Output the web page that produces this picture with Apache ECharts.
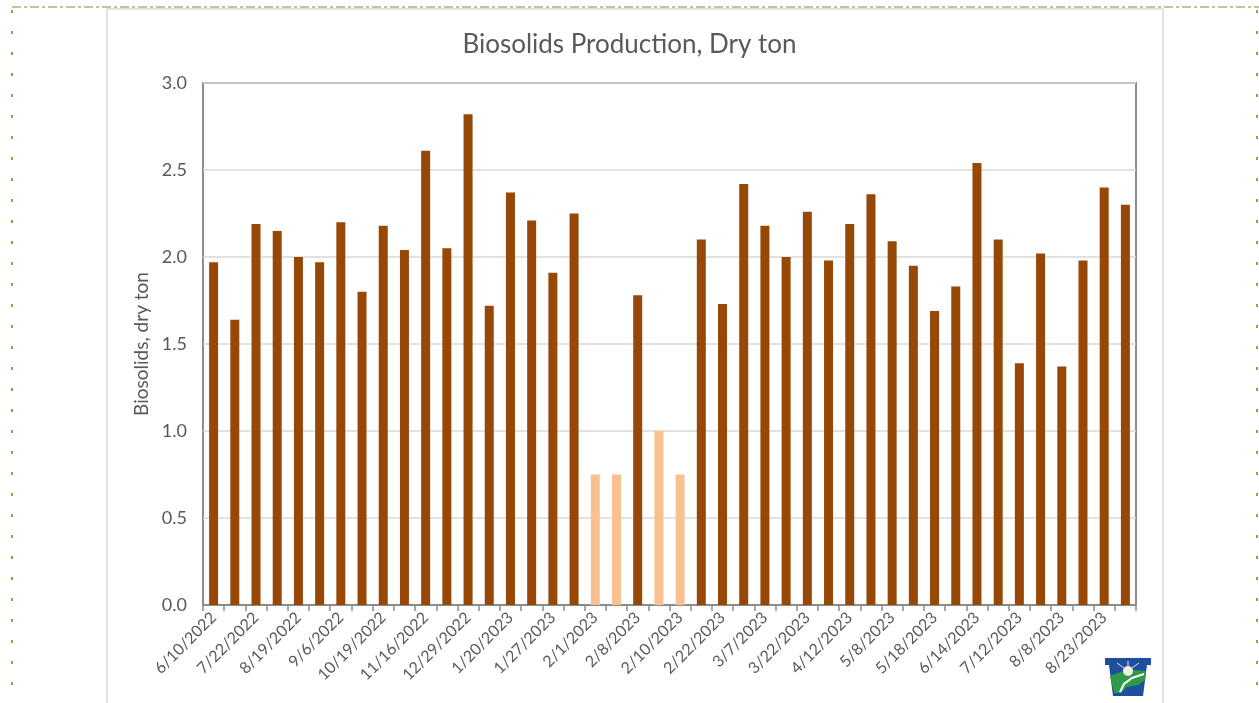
<!DOCTYPE html>
<html>
<head>
<meta charset="utf-8">
<script src="https://cdn.jsdelivr.net/npm/echarts@6/dist/echarts.min.js"></script>
<style>
html,body{margin:0;padding:0;background:#fff;}
#chart{width:1259px;height:703px;}
</style>
</head>
<body>
<div id="chart"></div>
<script>
// Sample dates (every other date is labelled in the original; unlabelled ones estimated)
const categories = [
  '6/10/2022','7/8/2022','7/22/2022','8/5/2022','8/19/2022','8/26/2022','9/6/2022','10/5/2022',
  '10/19/2022','11/2/2022','11/16/2022','12/14/2022','12/29/2022','1/13/2023','1/20/2023','1/25/2023',
  '1/27/2023','1/30/2023','2/1/2023','2/6/2023','2/8/2023','2/9/2023','2/10/2023','2/15/2023',
  '2/22/2023','3/1/2023','3/7/2023','3/15/2023','3/22/2023','4/5/2023','4/12/2023','4/26/2023',
  '5/8/2023','5/12/2023','5/18/2023','6/1/2023','6/14/2023','6/28/2023','7/12/2023','7/26/2023',
  '8/8/2023','8/16/2023','8/23/2023','8/30/2023'
];
// Measured production (dry ton); null where the value is shown as an estimate
const measuredVals = [
  1.97,1.64,2.19,2.15,2.00,1.97,2.20,1.80,2.18,2.04,2.61,2.05,2.82,1.72,2.37,2.21,
  1.91,2.25,null,null,1.78,null,null,2.10,1.73,2.42,2.18,2.00,2.26,1.98,2.19,2.36,
  2.09,1.95,1.69,1.83,2.54,2.10,1.39,2.02,1.37,1.98,2.40,2.30
];
// Estimated values (lighter bars)
const estimatedVals = [
  null,null,null,null,null,null,null,null,null,null,null,null,null,null,null,null,
  null,null,0.75,0.75,null,1.00,0.75,null,null,null,null,null,null,null,null,null,
  null,null,null,null,null,null,null,null,null,null,null,null
];
const yTicks = [0,0.5,1.0,1.5,2.0,2.5,3.0];

const chart = echarts.init(document.getElementById('chart'));
const txt = '#595959';
const font = 'Lato';
chart.setOption({
  backgroundColor: '#ffffff',
  animation: false,
  title: {
    text: 'Biosolids Production, Dry ton',
    left: 'center', top: 27,
    textStyle: { fontFamily: font, fontSize: 26, fontWeight: 'normal', color: txt }
  },
  grid: { left: 203, right: 123, top: 83, bottom: 98, show: true, borderColor: '#8c8c8c', borderWidth: 2, containLabel: false },
  xAxis: {
    type: 'category',
    data: categories,
    axisLine: { lineStyle: { color: '#8c8c8c', width: 2 } },
    axisTick: { show: true, interval: 0, length: 6, lineStyle: { color: '#8c8c8c', width: 1.5 } },
    axisLabel: { interval: 1, rotate: 45, margin: 10, color: txt, fontFamily: font, fontSize: 16 }
  },
  yAxis: {
    type: 'value', min: 0, max: 3, interval: 0.5,
    name: 'Biosolids, dry ton', nameLocation: 'middle', nameGap: 44,
    nameTextStyle: { fontFamily: font, fontSize: 19, color: txt },
    axisLine: { show: false }, axisTick: { show: false },
    axisLabel: { margin: 16, color: txt, fontFamily: font, fontSize: 18,
      formatter: v => (yTicks.indexOf(v) >= 0 ? v.toFixed(1) : '') },
    splitLine: { lineStyle: { color: '#d9d9d9', width: 1.5 } }
  },
  series: [
    { name: 'Measured', type: 'bar', data: measuredVals, barWidth: 9, barGap: '-100%',
      itemStyle: { color: '#974706' } },
    { name: 'Estimated', type: 'bar', data: estimatedVals, barWidth: 9, barGap: '-100%',
      itemStyle: { color: '#fac090' } }
  ],
  graphic: [
    { type: 'rect', shape: { x: 107, y: 9, width: 1056, height: 720 }, style: { fill: 'none', stroke: '#d9d9d9', lineWidth: 1.5 }, z: -1 },
    { type: 'line', shape: { x1: 12, y1: 7, x2: 1259, y2: 7 }, style: { stroke: '#7f8f3a', lineWidth: 1.2, lineDash: [9, 3, 3, 3] } },
    { type: 'line', shape: { x1: 12, y1: 10, x2: 12, y2: 703 }, style: { stroke: '#9a9a50', lineWidth: 2, lineDash: [3, 18] } },
    { type: 'line', shape: { x1: 1257, y1: 10, x2: 1257, y2: 703 }, style: { stroke: '#9a9a50', lineWidth: 2, lineDash: [3, 18] } },
    { type: 'group', left: 1105, top: 658, children: [
      { type: 'polygon', shape: { points: [[0,0],[46,0],[46,7],[42,7],[38,38],[8,38],[4,7],[0,7]] }, style: { fill: '#1d4f9c' } },
      { type: 'polygon', shape: { points: [[5,18],[16,14],[30,12],[41,13],[40,22],[33,27],[22,29],[16,35],[9,35]] }, style: { fill: '#2e9a48' } },
      { type: 'circle', shape: { cx: 23, cy: 13, r: 5 }, style: { fill: '#f2f6d8' } },
      { type: 'polyline', shape: { points: [[15,34],[19,26],[27,20],[39,16]] }, style: { stroke: '#ffffff', lineWidth: 2, fill: 'none' } },
      { type: 'line', shape: { x1: 23, y1: 13, x2: 12, y2: 5 }, style: { stroke: '#dfe8f5', lineWidth: 1 } },
      { type: 'line', shape: { x1: 23, y1: 13, x2: 34, y2: 5 }, style: { stroke: '#dfe8f5', lineWidth: 1 } },
      { type: 'line', shape: { x1: 23, y1: 13, x2: 23, y2: 3 }, style: { stroke: '#dfe8f5', lineWidth: 1 } }
    ] }
  ]
});
</script>
</body>
</html>
